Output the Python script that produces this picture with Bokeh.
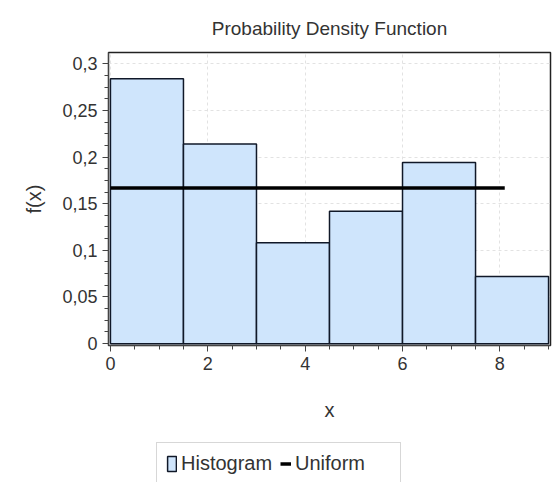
from bokeh.plotting import figure
from bokeh.layouts import column
from bokeh.models import (ColumnDataSource, Legend, LegendItem, SingleIntervalTicker,
                          Range1d, CustomJSTickFormatter)
from bokeh.embed import file_html
from bokeh.resources import INLINE

# Histogram bins (density) and uniform reference
bin_left = [0.0, 1.5, 3.0, 4.5, 6.0, 7.5]
bin_right = [1.5, 3.0, 4.5, 6.0, 7.5, 9.0]
density = [0.284, 0.214, 0.108, 0.142, 0.194, 0.072]
uniform_x = [0.0, 8.1]
uniform_y = [1 / 6, 1 / 6]

FONT = "Liberation Sans"
TEXT = "#333333"
BAR_FILL = "#cfe5fc"
BAR_LINE = "#101828"

p = figure(width=553, height=437, output_backend="svg", toolbar_location=None,
           x_range=Range1d(-0.04, 9.04), y_range=Range1d(-0.002, 0.312),
           min_border_left=108, min_border_right=3, min_border_top=52,
           min_border_bottom=92, title="Probability Density Function")

p.title.align = "center"
p.title.text_font = FONT
p.title.text_font_size = "19px"
p.title.text_font_style = "normal"
p.title.text_color = TEXT
p.title.standoff = 28

src = ColumnDataSource(dict(left=bin_left, right=bin_right, top=density,
                            bottom=[0] * len(density)))
p.quad(left="left", right="right", top="top", bottom="bottom", source=src,
       fill_color=BAR_FILL, line_color=BAR_LINE, line_width=1.5)
p.line(uniform_x, uniform_y, line_color="black", line_width=3.5)

p.xaxis.ticker = SingleIntervalTicker(interval=2, num_minor_ticks=4)
p.yaxis.ticker = SingleIntervalTicker(interval=0.05, num_minor_ticks=4)
# decimal comma on the density axis
p.yaxis.formatter = CustomJSTickFormatter(
    code="return String(Math.round(tick * 100) / 100).replace('.', ',');")
p.xaxis.axis_label = "x"
p.yaxis.axis_label = "f(x)"

for ax in (p.xaxis[0], p.yaxis[0]):
    ax.major_label_text_font = FONT
    ax.major_label_text_font_size = "18px"
    ax.major_label_text_color = TEXT
    ax.axis_label_text_font = FONT
    ax.axis_label_text_font_size = "20px"
    ax.axis_label_text_font_style = "normal"
    ax.axis_label_text_color = TEXT
    ax.axis_line_color = "#444444"
    ax.major_tick_line_color = "#444444"
    ax.minor_tick_line_color = "#444444"
    ax.major_tick_out = 6
    ax.major_tick_in = 0
    ax.minor_tick_out = 4
    ax.minor_tick_in = 0

p.yaxis.major_label_orientation = 0
p.xaxis.axis_label_standoff = 26
p.yaxis.axis_label_standoff = 14

p.grid.grid_line_color = "#e2e2e2"
p.grid.grid_line_dash = "3 3"
p.outline_line_color = "#222222"
p.outline_line_width = 1.5

# legend strip underneath the chart; its key glyphs sit outside the visible range
leg = figure(width=553, height=45, output_backend="svg", toolbar_location=None,
             x_range=Range1d(0, 1), y_range=Range1d(0, 1),
             x_axis_location=None, y_axis_location=None,
             min_border=0, outline_line_color=None)
leg.grid.visible = False
hist_key = leg.quad(left=[5], right=[6], top=[6], bottom=[5],
                    fill_color=BAR_FILL, line_color=BAR_LINE, line_width=1.5)
unif_key = leg.line(x=[5, 6], y=[5, 5], line_color="black", line_width=3.5)

legend = Legend(items=[LegendItem(label="Histogram", renderers=[hist_key]),
                       LegendItem(label="Uniform", renderers=[unif_key])],
                orientation="horizontal", location=(48, -3),
                label_text_font=FONT, label_text_font_size="20px",
                label_text_color=TEXT, glyph_width=11, glyph_height=19,
                label_standoff=4, label_width=96, spacing=3, padding=9, margin=0,
                border_line_color="#b0b0b0", border_line_width=1.5,
                background_fill_alpha=1)
leg.add_layout(legend, "center")

page = column(p, leg, spacing=0)
open("out.html", "w").write(file_html(page, INLINE))
